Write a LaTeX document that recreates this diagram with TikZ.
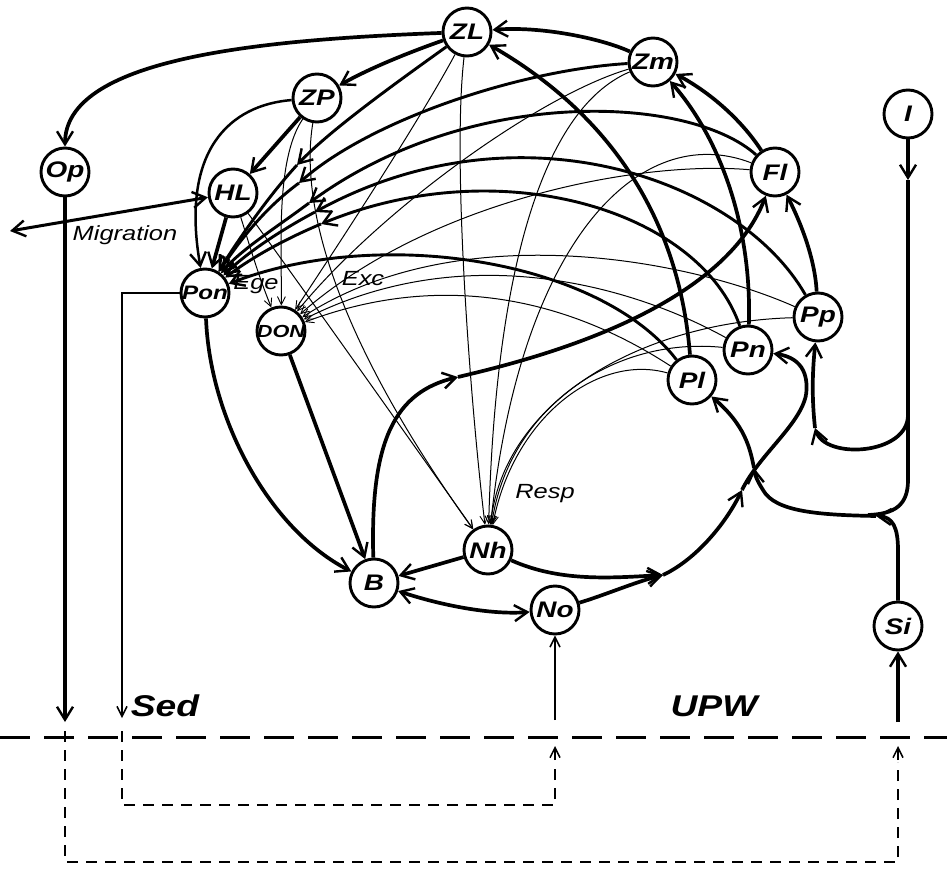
\documentclass[tikz,border=0pt]{standalone}
\usepackage{fontspec}
\usetikzlibrary{arrows.meta}
\newfontfamily\diagfont[FakeStretch=1.24]{Liberation Sans}
\newcommand{\poolfont}{\diagfont\bfseries\itshape\fontsize{22.5}{22.5}\selectfont}
\newcommand{\fluxfont}{\diagfont\itshape\fontsize{20.5}{20.5}\selectfont}
\newcommand{\layerfont}{\diagfont\bfseries\itshape\fontsize{30}{30}\selectfont}
\pgfdeclarelayer{flows}
\pgfsetlayers{flows,main}

\tikzset{
  pool/.style={circle, draw, fill=white, line width=2.9pt, minimum size=48pt, inner sep=0pt, font=\poolfont},
  bigbarb/.tip={Straight Barb[length=13pt,width=16pt,line width=2.4pt]},
  medbarb/.tip={Straight Barb[length=10pt,width=10pt,line width=1.5pt]},
  smallbarb/.tip={Straight Barb[length=8pt,width=8pt,line width=0.9pt]},
  heavy/.style={line width=3.7pt, -bigbarb},
  heavyline/.style={line width=3.7pt},
  fanline/.style={line width=2.9pt, -bigbarb},
  thinline/.style={line width=1pt, -smallbarb},
  lbl/.style={font=\fluxfont, inner sep=0pt},
}

\begin{document}
\begin{tikzpicture}[x=1pt,y=-1pt]
\useasboundingbox (0,0) rectangle (947,869);

% state variables
\node[pool] (ZL) at (467,32) {ZL};
\node[pool] (Zm) at (653,62) {Zm};
\node[pool] (ZP) at (317,98) {ZP};
\node[pool] (Op) at (65,172) {Op};
\node[pool] (HL) at (233,193) {HL};
\node[pool] (Fl) at (775,172) {Fl};
\node[pool] (I) at (908,114) {I};
\node[pool] (Pon) at (205,293) {\makebox[0pt]{\fontsize{19.5}{19.5}\selectfont Pon}};
\node[pool] (DON) at (281,331) {\makebox[0pt]{\fontsize{17.5}{17.5}\selectfont DON}};
\node[pool] (Pp) at (818,317) {Pp};
\node[pool] (Pn) at (748,350) {Pn};
\node[pool] (Pl) at (692,380) {Pl};
\node[pool] (Nh) at (488,550) {Nh};
\node[pool] (B) at (374,583) {B};
\node[pool] (No) at (555,610) {No};
\node[pool] (Si) at (898,626) {Si};

% flux labels
\node[lbl] (migl) at (125,235) {Migration};
\node[lbl] (egel) at (256,285) {Ege};
\node[lbl] (excl) at (363,279) {Exc};
\node[lbl] (respl) at (545,494) {Resp};
\node[font=\layerfont, inner sep=0pt] (sedl) at (165,706) {Sed};
\node[font=\layerfont, inner sep=0pt] (upwl) at (714,706) {UPW};

% junction points of the merged flows
\coordinate (mig) at (10,231);
\coordinate (bf) at (458,377);
\coordinate (nj) at (663,575);
\coordinate (nm) at (742,490);
\coordinate (np) at (806,395);
\coordinate (ia) at (908,180);
\coordinate (ib) at (908,415);
\coordinate (ic) at (815,428);
\coordinate (s1) at (876,516);
\coordinate (s2) at (754,468);
\coordinate (f1) at (297,165);
\coordinate (f2) at (299,183);
\coordinate (f3) at (309,203);
\coordinate (f4) at (315,212);
\coordinate (f5) at (321,224);
\coordinate (opend) at (65,722);
\coordinate (sedend) at (122,718);
\coordinate (sedc) at (122,293);
\coordinate (nobase) at (555,720);
\coordinate (sibase) at (898,722);

\begin{pgfonlayer}{flows}
% grazing and predation
\draw[heavy] (ZL) .. controls (250,40) and (65,60) .. (Op);
\draw[heavy] (ZL) .. controls (410,52) and (370,68) .. (ZP);
\draw[heavy] (Zm) .. controls (600,38) and (540,26) .. (ZL);
\draw[heavy] (Fl) .. controls (745,125) and (715,95) .. (Zm);
\draw[heavy] (Pn) .. controls (752,230) and (722,140) .. (Zm);
\draw[heavy] (Pl) .. controls (680,230) and (620,120) .. (ZL);
\draw[heavy] (Pp) .. controls (815,260) and (802,225) .. (Fl);
\draw[heavy] (ZP) -- (HL);
\draw[heavy] (HL) -- (Pon);
\draw[line width=2.5pt, -bigbarb] (ZP) .. controls (230,105) and (180,150) .. (Pon);
\draw[line width=3pt, bigbarb-bigbarb] (mig) -- (HL);

% bacteria
\draw[heavy] (B) .. controls (370,440) and (395,392) .. (bf);
\draw[heavy] (bf) .. controls (521,362) and (720,315) .. (Fl);
\draw[heavy] (Pon) .. controls (210,420) and (270,530) .. (B);
\draw[heavy] (DON) -- (B);
\draw[heavy] (Nh) -- (B);
\draw[heavy, bigbarb-bigbarb] (B) .. controls (440,605) and (490,615) .. (No);

% nutrient uptake
\draw[heavy] (Nh) .. controls (560,582) and (610,578) .. (nj);
\draw[heavy] (No) .. controls (605,595) and (635,582) .. (nj);
\draw[heavy] (nj) .. controls (695,560) and (725,525) .. (nm);
\draw[heavyline] (nm) .. controls (759,455) and (800,425) .. (np);
\draw[heavy] (np) .. controls (808,380) and (806,358) .. (Pn);

% light
\draw[heavy] (I) -- (ia);
\draw[heavyline] (ia) -- (ib);
\draw[heavy] (ib) .. controls (908,455) and (825,460) .. (ic);
\draw[heavy] (ic) .. controls (812,400) and (812,375) .. (Pp);
\draw[heavyline] (ib) -- (908,480) .. controls (908,505) and (895,514) .. (868,515);

% silicate
\draw[heavy] (Si) -- (898,550) .. controls (898,528) and (893,517) .. (s1);
\draw[heavy] (s1) .. controls (820,515) and (775,512) .. (763,490) .. controls (758,482) and (755,476) .. (s2);
\draw[heavy] (s2) .. controls (750,448) and (745,425) .. (Pl);

% egestion and mortality into Pon
\draw[fanline] (ZL) .. controls (400,80) and (330,130) .. (f1);
\draw[fanline] (f1) .. controls (265,200) and (235,245) .. (Pon);
\draw[fanline] (Zm) .. controls (520,70) and (370,120) .. (f2);
\draw[fanline] (f2) .. controls (265,208) and (240,240) .. (Pon);
\draw[fanline] (Fl) .. controls (690,95) and (470,85) .. (f3);
\draw[fanline] (f3) .. controls (280,225) and (240,250) .. (Pon);
\draw[fanline] (Pp) .. controls (740,180) and (520,100) .. (f4);
\draw[fanline] (f4) .. controls (285,228) and (250,250) .. (Pon);
\draw[fanline] (Pn) .. controls (700,210) and (500,150) .. (f5);
\draw[fanline] (f5) .. controls (290,237) and (255,255) .. (Pon);
\draw[fanline] (Pl) .. controls (600,260) and (380,225) .. (Pon);

% excretion into DON
\draw[thinline] (HL) .. controls (248,240) and (258,275) .. (DON);
\draw[thinline] (ZP) .. controls (275,160) and (282,250) .. (DON);
\draw[thinline] (ZL) .. controls (420,120) and (335,250) .. (DON);
\draw[thinline] (Zm) .. controls (540,95) and (380,210) .. (DON);
\draw[thinline] (Fl) .. controls (640,160) and (430,200) .. (DON);
\draw[thinline] (Pp) .. controls (690,260) and (460,215) .. (DON);
\draw[thinline] (Pn) .. controls (640,290) and (470,235) .. (DON);
\draw[thinline] (Pl) .. controls (600,320) and (470,260) .. (DON);

% respiration into Nh
\draw[thinline] (HL) .. controls (290,270) and (410,440) .. (Nh);
\draw[thinline] (ZP) .. controls (300,200) and (330,330) .. (Nh);
\draw[thinline] (ZL) .. controls (452,160) and (470,400) .. (Nh);
\draw[thinline] (Zm) .. controls (540,110) and (495,280) .. (Nh);
\draw[thinline] (Fl) .. controls (640,120) and (520,240) .. (Nh);
\draw[thinline] (Pp) .. controls (640,322) and (503,402) .. (Nh);
\draw[thinline] (Pn) .. controls (612,336) and (508,410) .. (Nh);
\draw[thinline] (Pl) .. controls (598,353) and (513,418) .. (Nh);

% exchange with the sediment and upwelling
\draw[heavy] (Op) -- (opend);
\draw[line width=1.5pt, -medbarb] (Pon) -- (sedc) -- (sedend);
\draw[line width=1.5pt, -medbarb] (nobase) -- (No);
\draw[heavy] (sibase) -- (Si);
\draw[line width=3pt, dash pattern=on 30pt off 14pt] (0,737) -- (947,737);
\draw[line width=1.8pt, dash pattern=on 11pt off 8pt] (122,731) -- (122,805) -- (555,805) -- (555,762);
\draw[line width=1.8pt, dash pattern=on 11pt off 8pt] (65,731) -- (65,862) -- (898,862) -- (898,762);
\draw[line width=1.5pt, -medbarb] (555,760) -- (555,746);
\draw[line width=1.5pt, -medbarb] (898,760) -- (898,746);
\end{pgfonlayer}
\end{tikzpicture}
\end{document}
